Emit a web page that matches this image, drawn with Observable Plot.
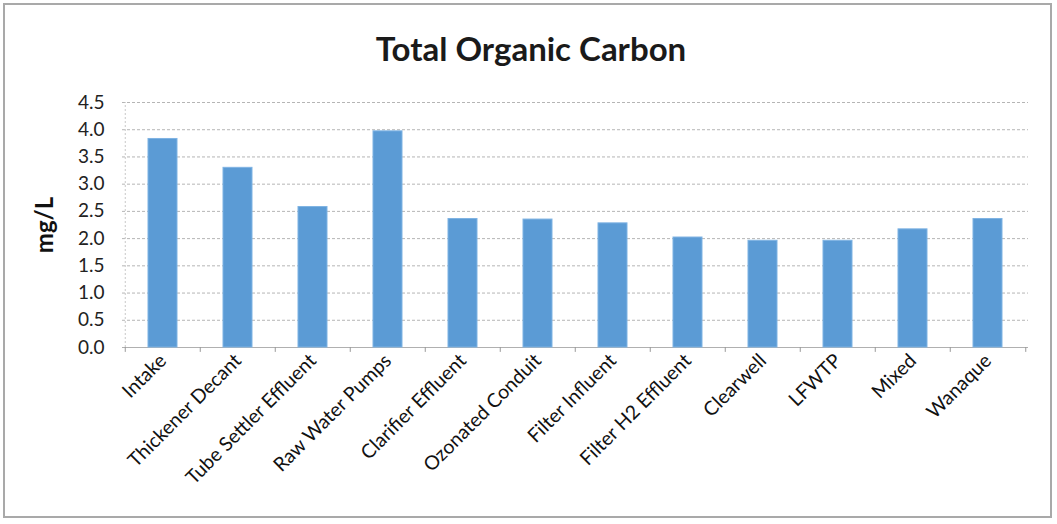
<!DOCTYPE html>
<html>
<head>
<meta charset="utf-8">
<script src="https://cdn.jsdelivr.net/npm/d3@7"></script>
<script src="https://cdn.jsdelivr.net/npm/@observablehq/plot@0.6"></script>
<style>
  html, body { margin: 0; padding: 0; background: #fff; }
  #wrap { position: relative; width: 1057px; height: 524px; overflow: hidden; font-family: Lato, "Open Sans", sans-serif; }
  #frame { position: absolute; left: 3px; top: 3px; width: 1049px; height: 515px; border: 2px solid #a9a9a9; box-sizing: border-box; pointer-events: none; }
  #title { position: absolute; left: 0; width: 1062px; top: 28px; text-align: center; font-size: 33px; font-weight: bold; color: #1a1a1a; }
  #chart { position: absolute; left: 0; top: 0; }
</style>
</head>
<body>
<div id="wrap">
  <div id="chart"></div>
  <div id="title">Total Organic Carbon</div>
  <div id="frame"></div>
</div>
<script>
const categories = ["Intake", "Thickener Decant", "Tube Settler Effluent", "Raw Water Pumps", "Clarifier Effluent", "Ozonated Conduit", "Filter Influent", "Filter H2 Effluent", "Clearwell", "LFWTP", "Mixed", "Wanaque"];
const toc = [3.83, 3.30, 2.58, 3.97, 2.36, 2.35, 2.28, 2.02, 1.96, 1.96, 2.17, 2.36];
const yTicks = [0, 0.5, 1, 1.5, 2, 2.5, 3, 3.5, 4, 4.5];

const data = categories.map((c, i) => ({site: c, value: toc[i]}));

const W = 1057, H = 524, mL = 122, mR = 29, mT = 102, mB = 177;
const step = (W - mL - mR) / categories.length;

const chart = Plot.plot({
  width: W,
  height: H,
  marginLeft: mL,
  marginRight: mR,
  marginTop: mT,
  marginBottom: mB,
  style: {fontFamily: "Lato, 'Open Sans', sans-serif", fontSize: "16px", color: "#222", background: "transparent"},
  x: {domain: categories, paddingInner: 0.62, paddingOuter: 0.31, label: null},
  y: {domain: [0, 4.5], label: null},
  marks: [
    Plot.ruleY(yTicks, {stroke: "#b5b5b5", strokeDasharray: "3,2", strokeWidth: 1}),
    Plot.ruleX([0], {x: () => categories[0], dx: -step / 2, y1: 0, y2: 4.5, stroke: "#c8c8c8", strokeDasharray: "2,2"}),
    Plot.ruleY([0], {stroke: "#b0b0b0"}),
    Plot.ruleX(categories, {x: d => d, dx: -step / 2, y1: 0, y2: -0.09, stroke: "#999"}),
    Plot.ruleX([categories[categories.length - 1]], {x: d => d, dx: step / 2, y1: 0, y2: -0.09, stroke: "#999"}),
    Plot.barY(data, {x: "site", y: "value", fill: "#5b9bd5", stroke: "#7fb3e3", strokeWidth: 1}),
    Plot.axisY({ticks: yTicks, tickFormat: d3.format(".1f"), tickSize: 0, tickPadding: 18, fontSize: 19, fill: "#222"}),
    Plot.axisX({tickSize: 0, tickRotate: -45, tickPadding: 10, fontSize: 19.5, fill: "#111"}),
    Plot.text(["mg/L"], {frameAnchor: "left", textAnchor: "middle", dx: -77, rotate: -90, fontSize: 24, fontWeight: "bold", fill: "#111"})
  ]
});
document.getElementById("chart").appendChild(chart);
</script>
</body>
</html>
